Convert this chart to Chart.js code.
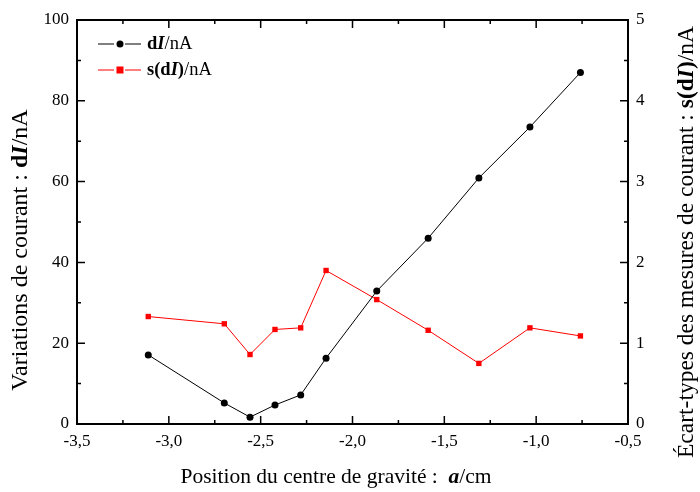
<!DOCTYPE html>
<html>
<head>
<meta charset="utf-8">
<title>Variations de courant</title>
<script src="https://cdn.jsdelivr.net/npm/chart.js@4.4.1/dist/chart.umd.min.js"></script>
<style>
    html, body { margin: 0; padding: 0; background: #fff; }
    #wrap { width: 700px; height: 492px; position: relative; }
</style>
</head>
<body>
<div id="wrap"><canvas id="chart" width="700" height="492"></canvas></div>
<script>
(function () {
    'use strict';

    // Data
    var positions = [-3.112, -2.698, -2.558, -2.422, -2.282, -2.144, -1.868, -1.588, -1.312, -1.034, -0.759];
    var currentVar = [17.1, 5.2, 1.7, 4.7, 7.2, 16.3, 32.9, 46.0, 60.9, 73.5, 87.0];
    var currentStd = [1.33, 1.24, 0.86, 1.17, 1.19, 1.90, 1.54, 1.16, 0.75, 1.19, 1.09];

    var xTicks = [-3.5, -3.0, -2.5, -2.0, -1.5, -1.0, -0.5];
    var yTicks = [0, 20, 40, 60, 80, 100];
    var y2Ticks = [0, 1, 2, 3, 4, 5];

    var SERIF = '"Liberation Serif", "DejaVu Serif", serif';

    function toPoints(xs, ys) {
        return xs.map(function (x, i) { return { x: x, y: ys[i] }; });
    }

    function commaLabel(v) {
        return v.toFixed(1).replace('.', ',');
    }

    // text with mixed styles: parts = [[text, style], ...]
    function richWidth(ctx, parts, size) {
        var w = 0;
        parts.forEach(function (p) {
            ctx.font = p[1] + ' ' + size + 'px ' + SERIF;
            w += ctx.measureText(p[0]).width;
        });
        return w;
    }

    function drawRich(ctx, parts, x, y, size, align) {
        var w = richWidth(ctx, parts, size);
        var cx = align === 'center' ? x - w / 2 : x;
        ctx.textAlign = 'left';
        ctx.textBaseline = 'middle';
        parts.forEach(function (p) {
            ctx.font = p[1] + ' ' + size + 'px ' + SERIF;
            ctx.fillText(p[0], cx, y);
            cx += ctx.measureText(p[0]).width;
        });
    }

    var yTitle = [['Variations de courant : ', 'normal'], ['d', 'bold'], ['I', 'italic bold'], ['/nA', 'normal']];
    var y2Title = [['Écart-types des mesures de courant : ', 'normal'], ['s(d', 'bold'], ['I', 'italic bold'], [')', 'bold'], ['/nA', 'normal']];
    var xTitle = [['Position du centre de gravité :  ', 'normal'], ['a', 'italic bold'], ['/cm', 'normal']];
    var legend1 = [['d', 'bold'], ['I', 'italic bold'], ['/nA', 'normal']];
    var legend2 = [['s(d', 'bold'], ['I', 'italic bold'], [')', 'bold'], ['/nA', 'normal']];

    // inward ticks, frame, titles and legend
    var decorPlugin = {
        id: 'decor',
        afterDraw: function (chart) {
            var ctx = chart.ctx;
            var a = chart.chartArea;
            var sx = chart.scales.x, sy = chart.scales.y, sy2 = chart.scales.y2;
            var MAJ = 8, MIN = 4;
            var i, p;

            ctx.save();
            ctx.strokeStyle = '#000';
            ctx.lineWidth = 1.5;
            ctx.beginPath();
            for (i = 0; i < xTicks.length; i++) {
                p = sx.getPixelForValue(xTicks[i]);
                ctx.moveTo(p, a.bottom); ctx.lineTo(p, a.bottom - MAJ);
                ctx.moveTo(p, a.top); ctx.lineTo(p, a.top + MAJ);
                if (i < xTicks.length - 1) {
                    p = sx.getPixelForValue((xTicks[i] + xTicks[i + 1]) / 2);
                    ctx.moveTo(p, a.bottom); ctx.lineTo(p, a.bottom - MIN);
                    ctx.moveTo(p, a.top); ctx.lineTo(p, a.top + MIN);
                }
            }
            for (i = 0; i < yTicks.length; i++) {
                p = sy.getPixelForValue(yTicks[i]);
                ctx.moveTo(a.left, p); ctx.lineTo(a.left + MAJ, p);
                if (i < yTicks.length - 1) {
                    p = sy.getPixelForValue((yTicks[i] + yTicks[i + 1]) / 2);
                    ctx.moveTo(a.left, p); ctx.lineTo(a.left + MIN, p);
                }
            }
            for (i = 0; i < y2Ticks.length; i++) {
                p = sy2.getPixelForValue(y2Ticks[i]);
                ctx.moveTo(a.right, p); ctx.lineTo(a.right - MAJ, p);
                if (i < y2Ticks.length - 1) {
                    p = sy2.getPixelForValue((y2Ticks[i] + y2Ticks[i + 1]) / 2);
                    ctx.moveTo(a.right, p); ctx.lineTo(a.right - MIN, p);
                }
            }
            ctx.stroke();

            ctx.lineWidth = 2;
            ctx.strokeRect(a.left, a.top, a.right - a.left, a.bottom - a.top);

            // axis titles
            ctx.fillStyle = '#000';
            drawRich(ctx, xTitle, 336, 477, 21.5, 'center');

            ctx.translate(21, 250);
            ctx.rotate(-Math.PI / 2);
            drawRich(ctx, yTitle, 0, 0, 24, 'center');
            ctx.setTransform(1, 0, 0, 1, 0, 0);

            ctx.translate(687, 242);
            ctx.rotate(-Math.PI / 2);
            drawRich(ctx, y2Title, 0, 0, 23.5, 'center');
            ctx.setTransform(1, 0, 0, 1, 0, 0);

            // legend
            var lx = a.left + 21, ly = a.top + 24;
            ctx.lineWidth = 1;
            ctx.strokeStyle = '#000';
            ctx.beginPath();
            ctx.moveTo(lx, ly); ctx.lineTo(lx + 16, ly);
            ctx.moveTo(lx + 27, ly); ctx.lineTo(lx + 43, ly);
            ctx.stroke();
            ctx.beginPath();
            ctx.arc(lx + 22, ly, 3.5, 0, Math.PI * 2);
            ctx.fill();
            drawRich(ctx, legend1, lx + 49, ly, 18.5, 'left');

            ly += 26;
            ctx.strokeStyle = '#ff0000';
            ctx.fillStyle = '#ff0000';
            ctx.beginPath();
            ctx.moveTo(lx, ly); ctx.lineTo(lx + 16, ly);
            ctx.moveTo(lx + 27, ly); ctx.lineTo(lx + 43, ly);
            ctx.stroke();
            ctx.fillRect(lx + 18.5, ly - 3.5, 7, 7);
            ctx.fillStyle = '#000';
            drawRich(ctx, legend2, lx + 49, ly, 18.5, 'left');
            ctx.restore();
        }
    };

    var tickFont = { family: SERIF, size: 17 };

    new Chart(document.getElementById('chart').getContext('2d'), {
        type: 'line',
        data: {
            datasets: [{
                label: 'dI/nA',
                data: toPoints(positions, currentVar),
                yAxisID: 'y',
                borderColor: '#000',
                backgroundColor: '#000',
                borderWidth: 1,
                pointStyle: 'circle',
                pointRadius: 3.5,
                pointBorderWidth: 0,
                tension: 0
            }, {
                label: 's(dI)/nA',
                data: toPoints(positions, currentStd),
                yAxisID: 'y2',
                borderColor: '#ff0000',
                backgroundColor: '#ff0000',
                borderWidth: 1,
                pointStyle: 'rect',
                pointRadius: 3.8,
                pointBorderWidth: 0,
                tension: 0
            }]
        },
        options: {
            responsive: false,
            animation: false,
            events: [],
            layout: { padding: { top: 20, left: 0, right: 0, bottom: 0 } },
            plugins: {
                legend: { display: false },
                tooltip: { enabled: false }
            },
            scales: {
                x: {
                    type: 'linear',
                    min: -3.5,
                    max: -0.5,
                    afterFit: function (s) { s.height = 68; },
                    afterBuildTicks: function (s) {
                        s.ticks = xTicks.map(function (v) { return { value: v }; });
                    },
                    ticks: {
                        color: '#000',
                        font: tickFont,
                        padding: 7,
                        callback: commaLabel
                    },
                    grid: { display: false, drawTicks: false },
                    border: { display: false }
                },
                y: {
                    position: 'left',
                    min: 0,
                    max: 100,
                    afterFit: function (s) { s.width = 77; },
                    afterBuildTicks: function (s) {
                        s.ticks = yTicks.map(function (v) { return { value: v }; });
                    },
                    ticks: { color: '#000', font: tickFont, padding: 8 },
                    grid: { display: false, drawTicks: false },
                    border: { display: false }
                },
                y2: {
                    position: 'right',
                    min: 0,
                    max: 5,
                    afterFit: function (s) { s.width = 72; },
                    afterBuildTicks: function (s) {
                        s.ticks = y2Ticks.map(function (v) { return { value: v }; });
                    },
                    ticks: { color: '#000', font: tickFont, padding: 8 },
                    grid: { display: false, drawTicks: false },
                    border: { display: false }
                }
            }
        },
        plugins: [decorPlugin]
    });
})();
</script>
</body>
</html>
